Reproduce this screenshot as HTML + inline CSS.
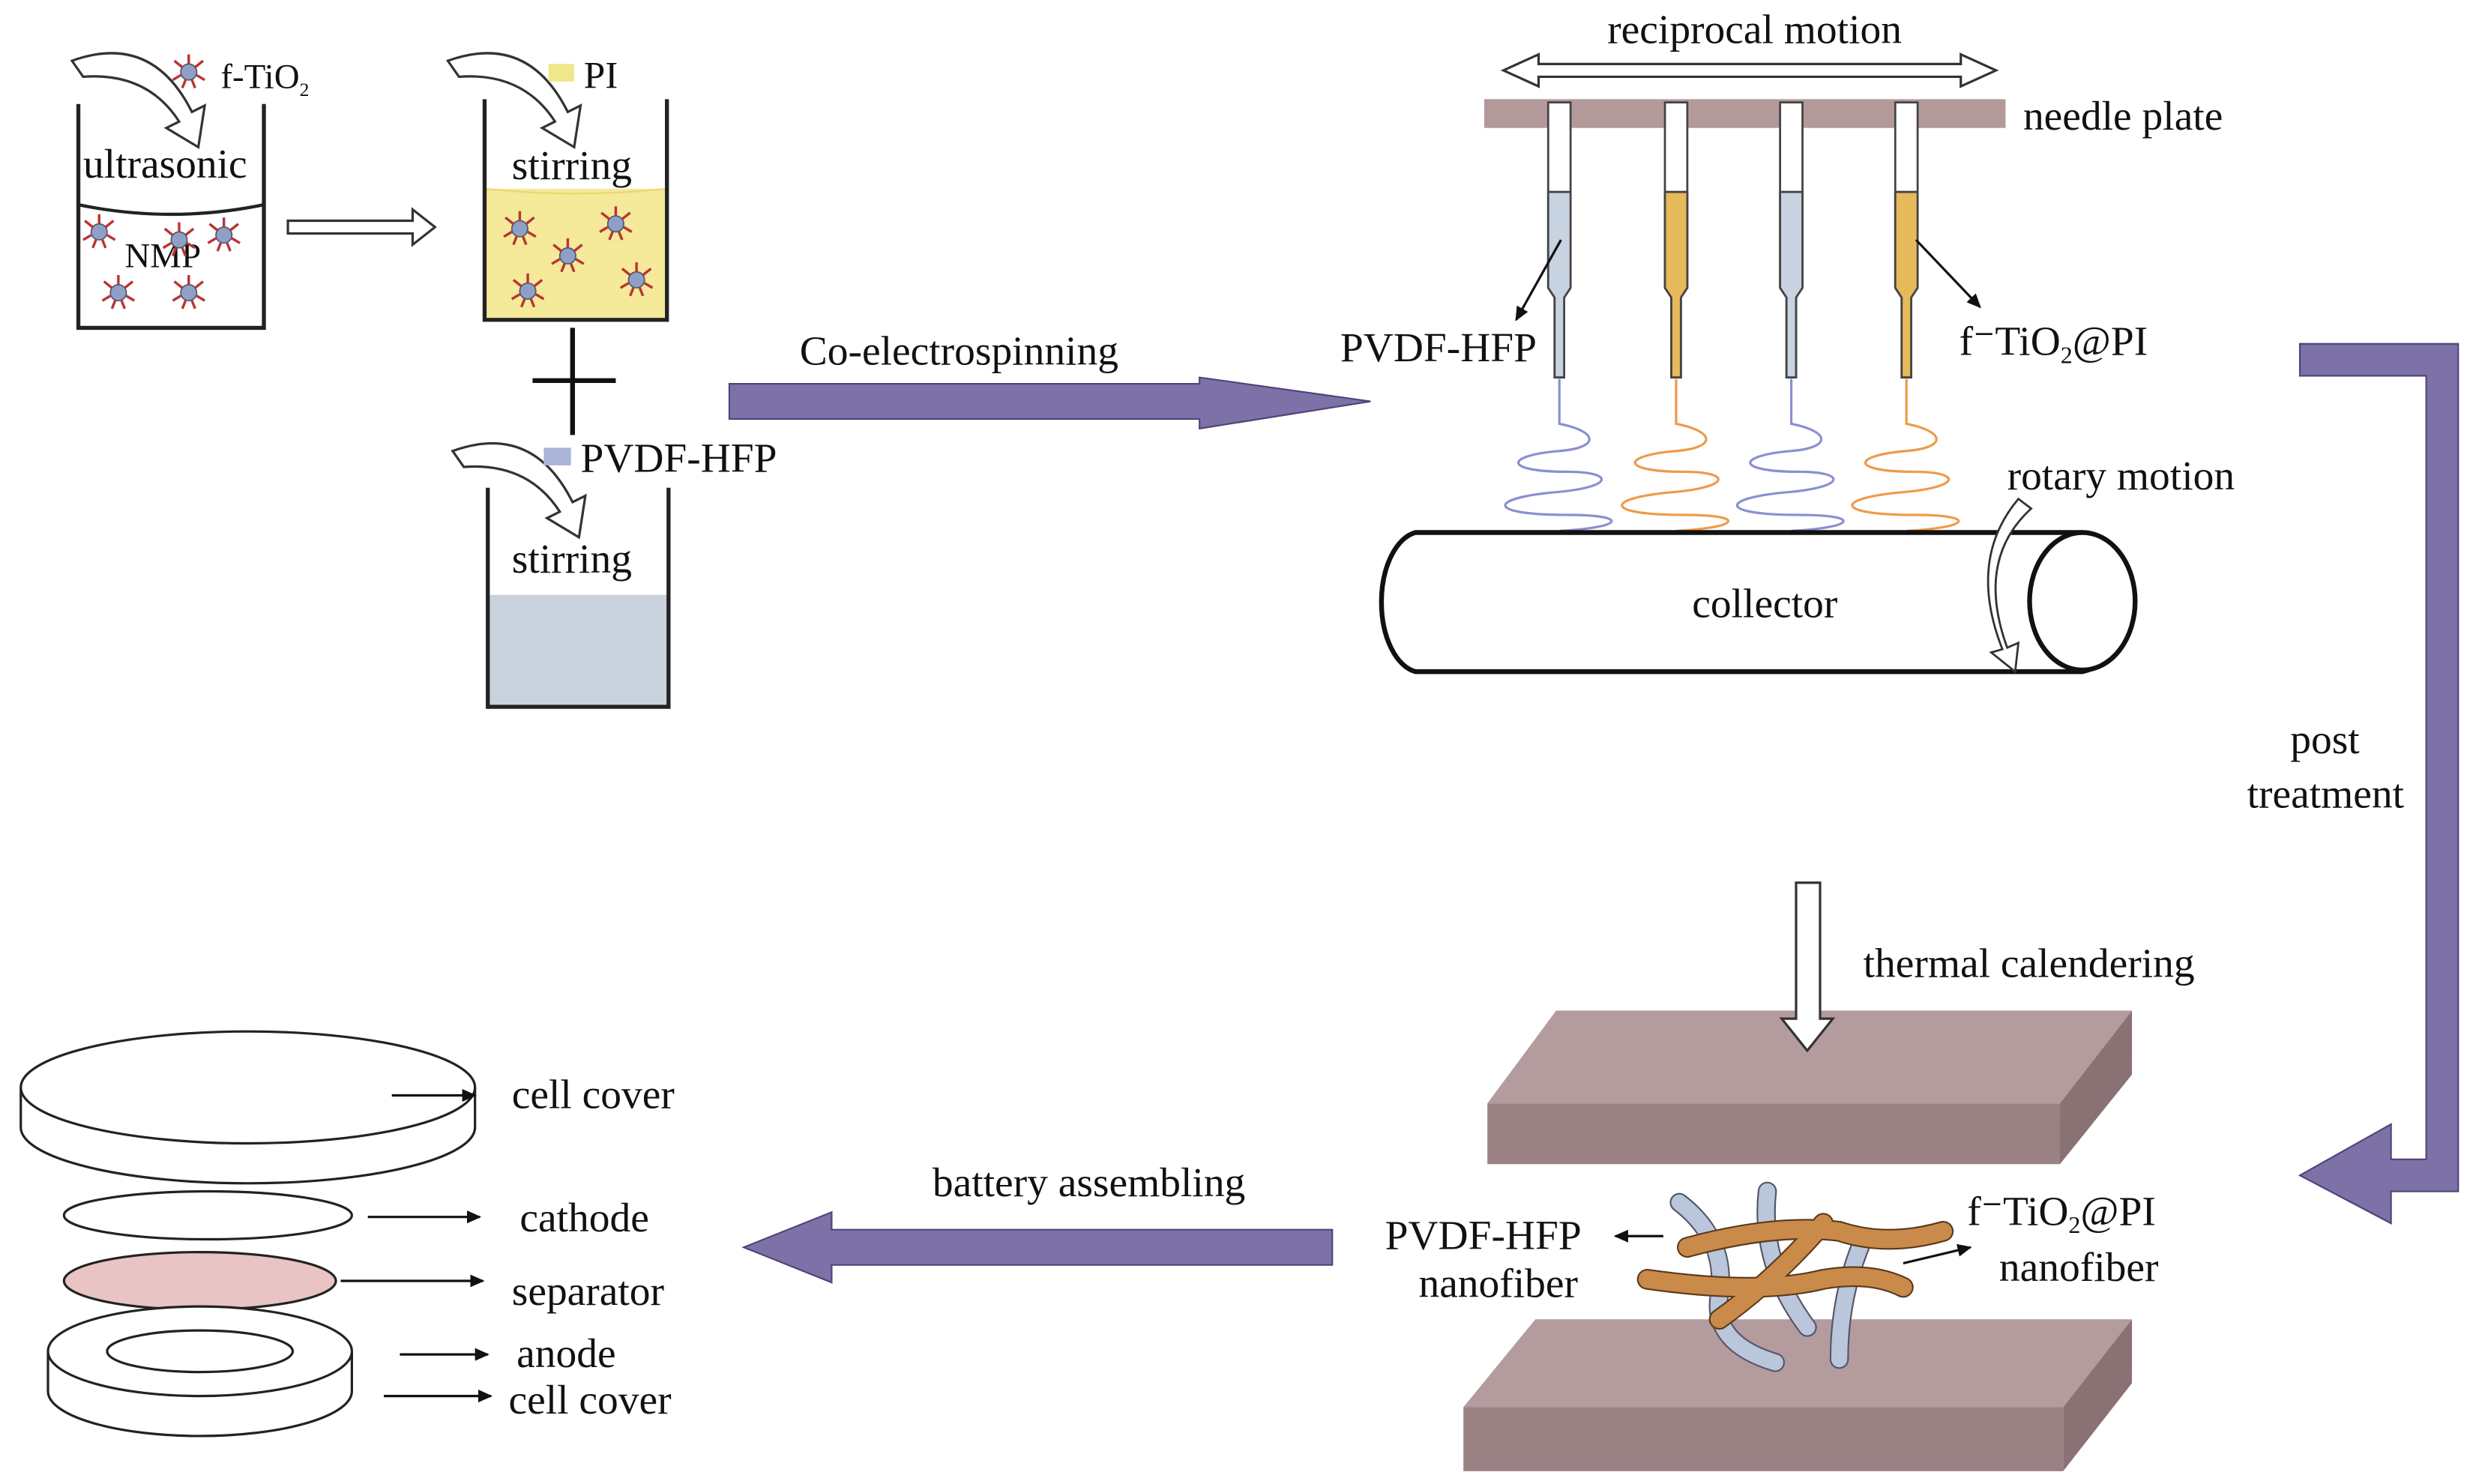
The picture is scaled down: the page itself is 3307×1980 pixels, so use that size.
<!DOCTYPE html>
<html><head><meta charset="utf-8"><style>html,body{margin:0;padding:0;background:#fff}svg{display:block}</style></head><body>
<svg width="3307" height="1980" viewBox="0 0 1550 928" xmlns="http://www.w3.org/2000/svg" font-family="Liberation Serif, serif" font-size="26" fill="#111">
<defs>
<marker id="ah" markerWidth="10" markerHeight="10" refX="8" refY="5" orient="auto" markerUnits="userSpaceOnUse"><path d="M0,1 L9,5 L0,9 z" fill="#111"/></marker>
<g id="p"><circle r="5" fill="#8fa0c8" stroke="#556" stroke-width="0.8"/><g stroke="#b33" stroke-width="1.6"><line x1="0" y1="-5" x2="0" y2="-11"/><line x1="5" y1="2" x2="10" y2="5"/><line x1="-5" y1="2" x2="-10" y2="5"/><line x1="4" y1="-3" x2="9" y2="-7"/><line x1="-4" y1="-3" x2="-9" y2="-7"/><line x1="2" y1="5" x2="4" y2="10"/><line x1="-2" y1="5" x2="-4" y2="10"/></g></g>
</defs>
<!-- beaker 1 -->
<path d="M49,65 V205 H165 V65" fill="none" stroke="#222" stroke-width="2.5"/>
<path d="M49,128 Q107,140 165,128" fill="none" stroke="#222" stroke-width="2"/>
<path d="M45,38 Q95,20 120,70 L128,66 L124,92 L104,80 L112,76 Q92,45 52,48 Z" fill="#fff" stroke="#333" stroke-width="1.5"/>
<use href="#p" x="118" y="45"/><text x="138" y="55" font-size="22">f-TiO<tspan font-size="12" dy="5">2</tspan></text>
<text x="52" y="111">ultrasonic</text><text x="78" y="167" font-size="22">NMP</text>
<use href="#p" x="62" y="145"/><use href="#p" x="140" y="147"/><use href="#p" x="74" y="183"/><use href="#p" x="118" y="183"/><use href="#p" x="112" y="150"/>
<!-- hollow arrow -->
<path d="M180,138 H258 V131 L272,142 L258,153 V146 H180 Z" fill="#fff" stroke="#333" stroke-width="1.5"/>
<!-- beaker 2 -->
<rect x="303" y="118" width="114" height="82" fill="#f5e99a"/>
<path d="M303,118 Q360,124 417,118" fill="none" stroke="#e8d870"/>
<path d="M303,62 V200 H417 V62" fill="none" stroke="#222" stroke-width="2.5"/>
<path d="M280,38 Q330,20 355,70 L363,66 L359,92 L339,80 L347,76 Q327,45 287,48 Z" fill="#fff" stroke="#333" stroke-width="1.5"/>
<rect x="343" y="40" width="16" height="11" fill="#f0e68a"/><text x="365" y="55" font-size="24">PI</text>
<text x="320" y="112">stirring</text>
<use href="#p" x="325" y="143"/><use href="#p" x="355" y="160"/><use href="#p" x="385" y="140"/><use href="#p" x="330" y="182"/><use href="#p" x="398" y="175"/>
<!-- plus -->
<line x1="358" y1="205" x2="358" y2="272" stroke="#111" stroke-width="3"/><line x1="333" y1="238" x2="385" y2="238" stroke="#111" stroke-width="3"/>
<!-- beaker 3 -->
<rect x="305" y="372" width="113" height="70" fill="#c9d1dd"/>
<path d="M305,305 V442 H418 V305" fill="none" stroke="#222" stroke-width="2.5"/>
<path d="M283,282 Q333,264 358,314 L366,310 L362,336 L342,324 L350,320 Q330,289 290,292 Z" fill="#fff" stroke="#333" stroke-width="1.5"/>
<rect x="340" y="280" width="17" height="11" fill="#aab5d8"/><text x="363" y="295">PVDF-HFP</text>
<text x="320" y="358">stirring</text>
<!-- purple arrow 1 -->
<path d="M456,240 H750 V236 L857,251 L750,268 V262 H456 Z" fill="#7d71a8" stroke="#4d4478"/>
<text x="500" y="228">Co-electrospinning</text>
<!-- reciprocal -->
<path d="M940,44 L962,34 V40 H1226 V34 L1248,44 L1226,54 V48 H962 V54 Z" fill="#fff" stroke="#333" stroke-width="1.5"/>
<text x="1005" y="27">reciprocal motion</text>
<rect x="928" y="62" width="326" height="18" fill="#b4999a"/>
<text x="1265" y="81">needle plate</text>
<!-- needles -->
<g stroke="#444" stroke-width="1.3">
<path d="M968,64 H982 V180 L978,186 V236 H972 V186 L968,180 Z" fill="#fff"/>
<path d="M968,120 H982 V180 L978,186 V236 H972 V186 L968,180 Z" fill="#c7d3e0"/>
<path d="M1113,64 H1127 V180 L1123,186 V236 H1117 V186 L1113,180 Z" fill="#fff"/>
<path d="M1113,120 H1127 V180 L1123,186 V236 H1117 V186 L1113,180 Z" fill="#c7d3e0"/>
<path d="M1041,64 H1055 V180 L1051,186 V236 H1045 V186 L1041,180 Z" fill="#fff"/>
<path d="M1041,120 H1055 V180 L1051,186 V236 H1045 V186 L1041,180 Z" fill="#e6b95a"/>
<path d="M1185,64 H1199 V180 L1195,186 V236 H1189 V186 L1185,180 Z" fill="#fff"/>
<path d="M1185,120 H1199 V180 L1195,186 V236 H1189 V186 L1185,180 Z" fill="#e6b95a"/>
</g>
<line x1="976" y1="150" x2="948" y2="200" stroke="#111" stroke-width="1.5" marker-end="url(#ah)"/>
<line x1="1198" y1="150" x2="1238" y2="192" stroke="#111" stroke-width="1.5" marker-end="url(#ah)"/>
<text x="838" y="226">PVDF-HFP</text>
<text x="1225" y="222">f<tspan>⁻</tspan>TiO<tspan font-size="15" dy="5">2</tspan><tspan dy="-5">@PI</tspan></text>
<!-- spirals -->
<g fill="none" stroke-width="1.5">
<path d="M975,237 V265 C1000,270 1000,280 975,282 C940,285 940,295 980,295 C1010,295 1010,305 970,308 C930,312 930,322 980,322 C1020,322 1015,330 975,332" stroke="#8a8fd0"/>
<path d="M1120,237 V265 C1145,270 1145,280 1120,282 C1085,285 1085,295 1125,295 C1155,295 1155,305 1115,308 C1075,312 1075,322 1125,322 C1165,322 1160,330 1120,332" stroke="#8a8fd0"/>
<path d="M1048,237 V265 C1073,270 1073,280 1048,282 C1013,285 1013,295 1053,295 C1083,295 1083,305 1043,308 C1003,312 1003,322 1053,322 C1093,322 1088,330 1048,332" stroke="#ee9a4a"/>
<path d="M1192,237 V265 C1217,270 1217,280 1192,282 C1157,285 1157,295 1197,295 C1227,295 1227,305 1187,308 C1147,312 1147,322 1197,322 C1237,322 1232,330 1192,332" stroke="#ee9a4a"/>
</g>
<!-- collector -->
<path d="M885,333 H1302 A33,44 0 0 1 1302,420 H885 A25,44 0 0 1 885,333 Z" fill="#fff" stroke="#111" stroke-width="3"/>
<ellipse cx="1302" cy="376" rx="33" ry="43" fill="#fff" stroke="#111" stroke-width="3"/>
<path d="M1270,318 Q1235,350 1255,405 L1262,402 L1260,420 L1245,408 L1252,406 Q1230,350 1262,312 Z" fill="#fff" stroke="#333" stroke-width="1.3"/>
<text x="1058" y="386">collector</text>
<text x="1255" y="306">rotary motion</text>
<!-- right L arrow -->
<path d="M1438,215 H1537 V745 H1495 V765 L1438,735 L1495,703 V725 H1517 V235 H1438 Z" fill="#7d71a8" stroke="#4d4478"/>
<text x="1432" y="471">post</text><text x="1405" y="505">treatment</text>
<text x="1165" y="611">thermal calendering</text>
<!-- plates -->
<polygon points="973,632 1333,632 1288,690 930,690" fill="#b49b9d"/>
<rect x="930" y="690" width="358" height="38" fill="#9a8183"/>
<polygon points="1288,690 1333,632 1333,672 1288,728" fill="#8a7274"/>
<polygon points="960,825 1333,825 1290,880 915,880" fill="#b49b9d"/>
<rect x="915" y="880" width="375" height="40" fill="#9a8183"/>
<polygon points="1290,880 1333,825 1333,865 1290,920" fill="#8a7274"/>
<!-- calender arrow (on top of plate) -->
<path d="M1123,552 H1138 V637 H1146 L1130,657 L1114,637 H1123 Z" fill="#fff" stroke="#333" stroke-width="1.5"/>
<!-- fibers -->
<g fill="none" stroke-linecap="round">
<g stroke="#556" stroke-width="12"><path d="M1050,752 Q1080,775 1075,810 Q1070,840 1110,852"/><path d="M1105,745 Q1100,790 1130,830"/><path d="M1165,775 Q1150,810 1150,850"/></g>
<g stroke="#b9c6dc" stroke-width="10"><path d="M1050,752 Q1080,775 1075,810 Q1070,840 1110,852"/><path d="M1105,745 Q1100,790 1130,830"/><path d="M1165,775 Q1150,810 1150,850"/></g>
<g stroke="#5a3a1a" stroke-width="13"><path d="M1055,780 Q1110,765 1150,770 Q1180,780 1215,770"/><path d="M1030,800 Q1100,810 1140,800 Q1170,795 1190,805"/><path d="M1075,825 Q1110,800 1140,765"/></g>
<g stroke="#c98a4a" stroke-width="11"><path d="M1055,780 Q1110,765 1150,770 Q1180,780 1215,770"/><path d="M1030,800 Q1100,810 1140,800 Q1170,795 1190,805"/><path d="M1075,825 Q1110,800 1140,765"/></g>
</g>
<line x1="1040" y1="773" x2="1010" y2="773" stroke="#111" stroke-width="1.5" marker-end="url(#ah)"/>
<line x1="1190" y1="790" x2="1232" y2="780" stroke="#111" stroke-width="1.5" marker-end="url(#ah)"/>
<text x="866" y="781">PVDF-HFP</text><text x="887" y="811">nanofiber</text>
<text x="1230" y="766">f<tspan>⁻</tspan>TiO<tspan font-size="15" dy="5">2</tspan><tspan dy="-5">@PI</tspan></text><text x="1250" y="801">nanofiber</text>
<!-- battery assembling arrow -->
<path d="M833,769 H520 V758 L465,780 L520,802 V791 H833 Z" fill="#7d71a8" stroke="#4d4478"/>
<text x="583" y="748">battery assembling</text>
<!-- battery parts -->
<g stroke="#222" stroke-width="1.5" fill="#fff">
<path d="M13,680 V705 A142,35 0 0 0 297,705 V680"/>
<ellipse cx="155" cy="680" rx="142" ry="35"/>
<ellipse cx="130" cy="760" rx="90" ry="15"/>
<ellipse cx="125" cy="801" rx="85" ry="18" fill="#e8c4c4"/>
<path d="M30,845 V870 A95,28 0 0 0 220,870 V845"/>
<ellipse cx="125" cy="845" rx="95" ry="28"/>
<ellipse cx="125" cy="845" rx="58" ry="13"/>
</g>
<g stroke="#111" stroke-width="1.5" marker-end="url(#ah)">
<line x1="245" y1="685" x2="297" y2="685"/><line x1="230" y1="761" x2="300" y2="761"/><line x1="213" y1="801" x2="302" y2="801"/><line x1="250" y1="847" x2="305" y2="847"/><line x1="240" y1="873" x2="307" y2="873"/>
</g>
<text x="320" y="693">cell cover</text><text x="325" y="770">cathode</text><text x="320" y="816">separator</text><text x="323" y="855">anode</text><text x="318" y="884">cell cover</text>
</svg>
</body></html>
